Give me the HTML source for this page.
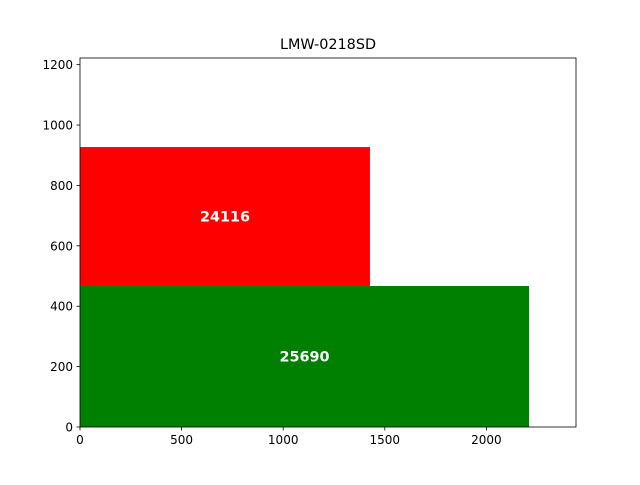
<!DOCTYPE html>
<html><head><meta charset="utf-8"><style>
body{margin:0;background:#fff;}
svg text{font-family:"DejaVu Sans","Liberation Sans",sans-serif;}
</style></head><body>
<svg id="chart" width="640" height="480" viewBox="0 0 640 480">
<rect width="640" height="480" fill="#fff"/>
<text x="328" y="49" text-anchor="middle" font-size="14.4" fill="#000">LMW-0218SD</text>
<g id="bars"></g>
<g id="axes"></g>
</svg>
<script>
const categories = ["green-block", "red-block"];
const widths = [2210, 1427];
const heights = [467, 460];
const bases = [0, 467];
const labels = ["25690", "24116"];
const colors = ["#008000", "#ff0000"];
const xTicks = [0, 500, 1000, 1500, 2000];
const yTicks = [0, 200, 400, 600, 800, 1000, 1200];
const xMax = 2441, yMax = 1222;
const L = 80, R = 576, T = 58, B = 427;
const sx = v => L + v / xMax * (R - L);
const sy = v => B - v / yMax * (B - T);
const NS = "http://www.w3.org/2000/svg";
const bars = document.getElementById("bars");
const axes = document.getElementById("axes");
function mk(tag, attrs, parent) {
  const e = document.createElementNS(NS, tag);
  for (const k in attrs) e.setAttribute(k, attrs[k]);
  parent.appendChild(e);
  return e;
}
categories.forEach((c, i) => {
  const r = mk("rect", {x: sx(0), y: sy(bases[i] + heights[i]), width: sx(widths[i]) - sx(0), height: sy(bases[i]) - sy(bases[i] + heights[i]), fill: colors[i]}, bars);
  
  
  const t = mk("text", {x: (sx(0) + sx(widths[i])) / 2, y: (sy(bases[i]) + sy(bases[i] + heights[i])) / 2 + 5, "text-anchor": "middle", "font-size": "14.4", "font-weight": "bold", fill: "#fff"}, bars);
  t.textContent = labels[i];
  
  
});
const frame = mk("rect", {x: L, y: T, width: R - L, height: B - T, fill: "none", stroke: "#000", "stroke-width": 0.8}, axes);


xTicks.forEach(v => {
  const x = sx(v);
  mk("line", {x1: x, x2: x, y1: B, y2: B + 3.5, stroke: "#000", "stroke-width": 0.8}, axes);
  const t = mk("text", {x: x, y: B + 17, "text-anchor": "middle", "font-size": "12"}, axes);
  t.textContent = v;
  
  
});
yTicks.forEach(v => {
  const y = sy(v);
  mk("line", {x1: L - 3.5, x2: L, y1: y, y2: y, stroke: "#000", "stroke-width": 0.8}, axes);
  const t = mk("text", {x: L - 7, y: y + 4.5, "text-anchor": "end", "font-size": "12"}, axes);
  t.textContent = v;
  
  
});
</script>
</body></html>
